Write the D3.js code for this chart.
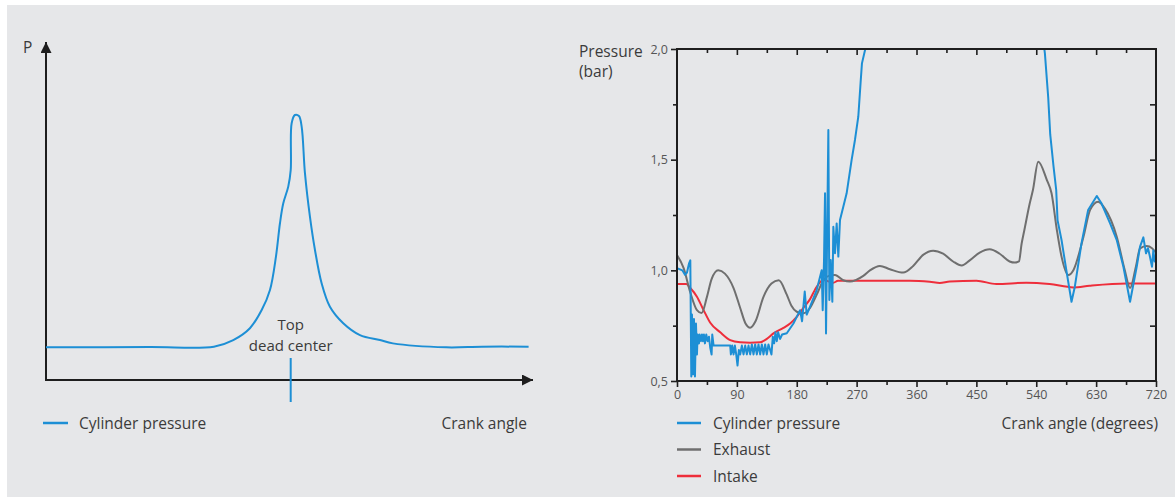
<!DOCTYPE html>
<html>
<head>
<meta charset="utf-8">
<script src="https://cdn.jsdelivr.net/npm/d3@7"></script>
<style>
  html, body { margin: 0; padding: 0; background: #fff; }
  svg { display: block; font-family: "Open Sans", sans-serif; }
</style>
</head>
<body>
<svg id="chart" width="1175" height="497"></svg>
<script>
// left schematic: crank angle (deg) vs relative pressure
const leftAngle = [0, 153, 247, 275.5, 300, 317.3, 329.5, 338.3, 344.2, 349, 356.4, 360, 361.4, 366.2, 372.1, 376.1, 381, 388.3, 395.7, 405.5, 417.7, 437.3, 461.9, 491.3, 510.3, 589, 641.3, 710];
const leftPressure = [0.99, 1.0, 1.01, 1.21, 1.57, 2.12, 2.73, 3.74, 4.75, 5.35, 5.86, 6.36, 7.78, 8.03, 8.0, 7.68, 6.26, 4.95, 3.94, 2.93, 2.22, 1.72, 1.36, 1.21, 1.11, 0.99, 1.01, 1.01];
const tdcAngle = 360;

// right chart: measured pressures (bar)
const cylAngle = [0, 8, 12, 15, 18, 20, 21.5, 22.5, 24, 25.5, 27, 28.5, 30, 31, 33, 34, 36, 37.5, 39, 40.5, 42, 44, 46, 48, 50, 52, 53, 55, 80, 81, 83, 85, 87, 89, 91, 93, 95, 97.5, 100, 102.5, 105, 107.5, 110, 112.5, 115, 117.5, 120, 122.5, 125, 127.5, 130, 132.5, 135, 137.5, 140, 142, 144, 146, 148, 150, 152, 155, 158, 165, 175, 185, 188, 192, 195, 200, 210, 217.5, 219, 221, 222.5, 224, 227.5, 229, 231, 233.5, 235, 237.5, 240, 242.5, 245, 255, 262.5, 267.5, 272.5, 276, 278, 283, 290, 320, 360, 450, 520, 548, 553, 558, 561, 566, 570, 572, 578, 586, 593, 598, 608, 618, 631, 638, 651, 661, 671, 681, 691, 696, 701, 705, 708, 711, 714, 716, 718, 720];
const cylPressure = [1.01, 1.0, 0.98, 0.99, 1.03, 1.045, 0.52, 0.8, 0.53, 0.78, 0.52, 0.76, 0.62, 0.71, 0.67, 0.71, 0.68, 0.71, 0.68, 0.71, 0.67, 0.71, 0.68, 0.7, 0.65, 0.62, 0.71, 0.66, 0.66, 0.62, 0.66, 0.62, 0.66, 0.62, 0.57, 0.64, 0.62, 0.66, 0.62, 0.66, 0.62, 0.66, 0.62, 0.665, 0.62, 0.665, 0.62, 0.665, 0.62, 0.665, 0.62, 0.665, 0.62, 0.665, 0.64, 0.62, 0.7, 0.67, 0.72, 0.68, 0.72, 0.69, 0.71, 0.716, 0.76, 0.82, 0.77, 0.904, 0.8, 0.836, 0.911, 1.0, 0.82, 1.047, 1.348, 0.715, 1.634, 0.866, 1.047, 0.858, 1.197, 1.077, 1.212, 1.062, 1.227, 1.348, 1.499, 1.589, 1.694, 1.85, 1.935, 2.0, 2.2, 4.0, 12.0, 6.0, 2.6, 2.1, 1.98, 1.78, 1.614, 1.469, 1.363, 1.227, 1.137, 0.986, 0.858, 0.926, 1.122, 1.273, 1.336, 1.303, 1.212, 1.137, 1.016, 0.858, 1.016, 1.107, 1.149, 1.077, 1.1, 1.06, 1.016, 1.09, 1.04, 1.06];

const exhAngle = [0, 10, 20, 30, 37, 45, 52, 62, 72, 85, 95, 103, 110, 118, 130, 142, 153, 165, 172, 180, 190, 200, 210, 220, 228, 237.5, 250, 260, 270, 280, 290, 305, 320, 340, 355, 370, 385, 400, 415, 428, 440, 455, 470, 485, 500, 508, 514, 518, 522, 530, 535, 543, 556, 563, 571, 578, 588, 596, 611, 621, 633, 643, 661, 673, 681, 690, 696, 706, 714, 720];
const exhPressure = [1.069, 1.01, 0.9, 0.82, 0.807, 0.88, 0.96, 1.0, 0.985, 0.92, 0.83, 0.76, 0.741, 0.77, 0.88, 0.94, 0.955, 0.89, 0.84, 0.813, 0.806, 0.83, 0.89, 0.955, 0.975, 0.979, 0.955, 0.949, 0.958, 0.975, 1.0, 1.02, 1.005, 0.99, 1.02, 1.07, 1.089, 1.075, 1.04, 1.022, 1.045, 1.08, 1.095, 1.075, 1.04, 1.035, 1.04, 1.12, 1.18, 1.3, 1.363, 1.491, 1.408, 1.348, 1.182, 1.062, 0.979, 1.002, 1.152, 1.273, 1.31, 1.28, 1.152, 1.002, 0.92, 1.02, 1.099, 1.11, 1.1, 1.08];

const intAngle = [0, 14, 20, 30, 40, 50, 65, 80, 95, 110, 125, 135, 145, 160, 170, 180, 190, 200, 210, 220, 235, 242, 300, 350, 380, 395, 410, 450, 480, 525, 560, 596, 620, 676, 720];
const intPressure = [0.938, 0.938, 0.92, 0.881, 0.82, 0.763, 0.72, 0.685, 0.675, 0.673, 0.675, 0.69, 0.715, 0.74, 0.76, 0.79, 0.83, 0.87, 0.926, 0.956, 0.944, 0.953, 0.953, 0.953, 0.948, 0.943, 0.95, 0.953, 0.938, 0.944, 0.938, 0.923, 0.93, 0.94, 0.94];

const yMajor = [0.5, 1.0, 1.5, 2.0];
const yMinor = [0.75, 1.25, 1.75];
const xMajor = [0, 90, 180, 270, 360, 450, 540, 630, 720];
const xMinor = [45, 135, 225, 315, 405, 495, 585, 675];

const BLUE = '#1d8fd5', GREY = '#6f6f6f', RED = '#ee2e3b', TXT = '#3b3b3b', INK = '#1e1e1e';

const svg = d3.select('#chart');
svg.append('rect').attr('x', 7).attr('y', 5).attr('width', 1168).attr('height', 492).attr('fill', '#e6e7e9');

const defs = svg.append('defs');
defs.append('marker').attr('id', 'arrow')
  .attr('viewBox', '0 0 10 10').attr('refX', 10).attr('refY', 5)
  .attr('markerWidth', 16).attr('markerHeight', 11).attr('markerUnits', 'userSpaceOnUse')
  .attr('orient', 'auto')
  .append('path').attr('d', 'M0,0L10,5L0,10Z').attr('fill', INK);

// ---------- left: schematic ----------
const lx = d3.scaleLinear().domain([0, 720]).range([46, 535.4]);
const ly = d3.scaleLinear().domain([0, 10]).range([380, 50]);
const left = svg.append('g');

left.append('line').attr('x1', lx(0)).attr('x2', lx(0)).attr('y1', ly(0) + 1).attr('y2', 42)
  .attr('stroke', INK).attr('stroke-width', 2).attr('marker-end', 'url(#arrow)');
left.append('line').attr('x1', lx(0) - 1).attr('x2', 533).attr('y1', ly(0)).attr('y2', ly(0))
  .attr('stroke', INK).attr('stroke-width', 2).attr('marker-end', 'url(#arrow)');

left.append('text').attr('x', 23).attr('y', 53).attr('fill', TXT).attr('font-size', 15.5).text('P');

left.append('path')
  .datum(leftAngle.map((a, i) => [a, leftPressure[i]]))
  .attr('fill', 'none').attr('stroke', BLUE).attr('stroke-width', 2)
  .attr('d', d3.line().x(d => lx(d[0])).y(d => ly(d[1])).curve(d3.curveCatmullRom.alpha(0.5)));

left.append('line').attr('x1', lx(tdcAngle)).attr('x2', lx(tdcAngle)).attr('y1', 358).attr('y2', 402)
  .attr('stroke', BLUE).attr('stroke-width', 2);
left.append('text').attr('x', lx(tdcAngle)).attr('y', 330).attr('text-anchor', 'middle')
  .attr('fill', TXT).attr('font-size', 15).text('Top');
left.append('text').attr('x', lx(tdcAngle)).attr('y', 351).attr('text-anchor', 'middle')
  .attr('fill', TXT).attr('font-size', 15).text('dead center');

left.append('line').attr('x1', 43).attr('x2', 68).attr('y1', 423).attr('y2', 423)
  .attr('stroke', BLUE).attr('stroke-width', 2.5);
left.append('text').attr('x', 79).attr('y', 428.5).attr('fill', TXT).attr('font-size', 15.5).text('Cylinder pressure');
left.append('text').attr('x', 527).attr('y', 428.5).attr('text-anchor', 'end')
  .attr('fill', TXT).attr('font-size', 15.5).text('Crank angle');

// ---------- right: measured ----------
const x = d3.scaleLinear().domain([0, 720]).range([677, 1156]);
const y = d3.scaleLinear().domain([0.5, 2.0]).range([381, 49]);
const comma = d3.formatLocale({ decimal: ',', thousands: '.', grouping: [3], currency: ['', ''] }).format('.1f');
const right = svg.append('g');

defs.append('clipPath').attr('id', 'plot')
  .append('rect').attr('x', x(0)).attr('y', y(2.0)).attr('width', x(720) - x(0)).attr('height', y(0.5) - y(2.0));

function styleAxis(g) {
  g.select('.domain').remove();
  g.selectAll('.tick line').attr('stroke', INK).attr('stroke-width', 1.6);
  g.selectAll('.tick text').attr('fill', '#555').attr('font-size', 12.5).attr('font-family', '"Open Sans", sans-serif');
}

right.append('g').attr('transform', `translate(${x(0)},0)`)
  .call(d3.axisLeft(y).tickValues(yMajor).tickFormat(comma).tickSize(6).tickPadding(3)).call(styleAxis);
right.append('g').attr('transform', `translate(${x(0)},0)`)
  .call(d3.axisLeft(y).tickValues(yMinor).tickFormat('').tickSize(4)).call(styleAxis);
right.append('g').attr('transform', `translate(${x(720)},0)`)
  .call(d3.axisRight(y).tickValues(yMinor.concat([1.0, 1.5])).tickFormat('').tickSize(-6)).call(styleAxis);
right.append('g').attr('transform', `translate(0,${y(0.5)})`)
  .call(d3.axisBottom(x).tickValues(xMajor).tickFormat(d3.format('d')).tickSize(6).tickPadding(3)).call(styleAxis);
right.append('g').attr('transform', `translate(0,${y(0.5)})`)
  .call(d3.axisBottom(x).tickValues(xMinor).tickFormat('').tickSize(4)).call(styleAxis);
right.append('g').attr('transform', `translate(0,${y(2.0)})`)
  .call(d3.axisTop(x).tickValues(xMajor.slice(1, -1)).tickFormat('').tickSize(-6)).call(styleAxis);
right.append('g').attr('transform', `translate(0,${y(2.0)})`)
  .call(d3.axisTop(x).tickValues(xMinor).tickFormat('').tickSize(-4)).call(styleAxis);

const plot = right.append('g').attr('clip-path', 'url(#plot)');
const line = d3.line().x(d => x(d[0])).y(d => y(d[1]));

plot.append('path')
  .datum(intAngle.map((a, i) => [a, intPressure[i]]))
  .attr('fill', 'none').attr('stroke', RED).attr('stroke-width', 2)
  .attr('d', line.curve(d3.curveMonotoneX));
plot.append('path')
  .datum(exhAngle.map((a, i) => [a, exhPressure[i]]))
  .attr('fill', 'none').attr('stroke', GREY).attr('stroke-width', 2)
  .attr('d', line.curve(d3.curveMonotoneX));
plot.append('path')
  .datum(cylAngle.map((a, i) => [a, cylPressure[i]]))
  .attr('fill', 'none').attr('stroke', BLUE).attr('stroke-width', 2).attr('stroke-linejoin', 'round')
  .attr('d', line.curve(d3.curveLinear));

right.append('rect').attr('x', x(0)).attr('y', y(2.0)).attr('width', x(720) - x(0)).attr('height', y(0.5) - y(2.0))
  .attr('fill', 'none').attr('stroke', INK).attr('stroke-width', 2);

right.append('text').attr('x', 579).attr('y', 57).attr('fill', TXT).attr('font-size', 15.5).text('Pressure');
right.append('text').attr('x', 579).attr('y', 77).attr('fill', TXT).attr('font-size', 15.5).text('(bar)');

const legend = [['Cylinder pressure', BLUE], ['Exhaust', GREY], ['Intake', RED]];
legend.forEach(([name, col], i) => {
  const ly0 = 423 + i * 26.5;
  right.append('line').attr('x1', 677).attr('x2', 701).attr('y1', ly0).attr('y2', ly0)
    .attr('stroke', col).attr('stroke-width', 2.5);
  right.append('text').attr('x', 713).attr('y', ly0 + 5.5).attr('fill', TXT).attr('font-size', 15.5).text(name);
});
right.append('text').attr('x', 1158).attr('y', 428.5).attr('text-anchor', 'end')
  .attr('fill', TXT).attr('font-size', 15.5).text('Crank angle (degrees)');
</script>
</body>
</html>
